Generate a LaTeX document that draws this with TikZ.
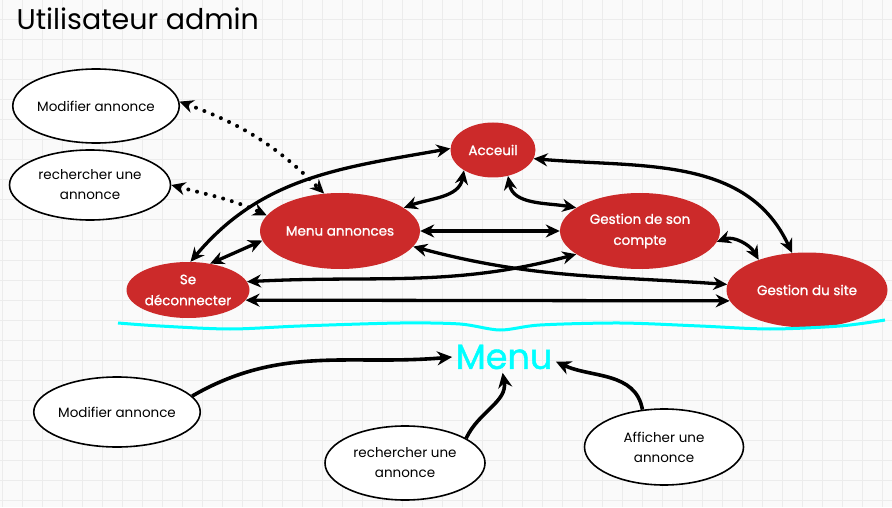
\documentclass[tikz,border=0pt]{standalone}
\usepackage{fontspec}
\setmainfont{Poppins}
\newfontfamily\heavyfont{Poppins}[FakeBold=1.2]
\usepackage{tikz}
\usetikzlibrary{arrows.meta,shapes.geometric,positioning}
\definecolor{redbox}{RGB}{204,42,42}
\definecolor{gridgray}{RGB}{236,236,236}
\definecolor{paper}{RGB}{250,250,250}
\definecolor{aqua}{RGB}{0,255,255}
\tikzset{%
	grid/.style    = {gridgray, line width=1pt},
	pick/.style    = {draw, ellipse, line width=1.6pt, fill=white, minimum width=160pt, minimum height=72pt, inner sep=0pt, align=center, font=\fontsize{13.5}{20}\selectfont},
	screen/.style  = {ellipse, fill=redbox, text=white, minimum width=160pt, minimum height=76pt, inner sep=0pt, align=center, font=\heavyfont\fontsize{13.5}{21}\selectfont},
	link/.style    = {line width=3.3pt,<->,>={Stealth[length=14pt,width=13pt]}},
	dotlink/.style = {link, line cap=round, dash pattern=on 0pt off 9pt, line width=4pt},
	goto/.style    = {line width=3.6pt,-{Stealth[length=15pt,width=14pt]}},
}

\begin{document}
\begin{tikzpicture}[x=1pt,y=1pt]
	\fill[paper] (0,0) rectangle (892,507);
	\useasboundingbox (0,0) rectangle (892,507);
	\foreach \gx in {2,22,...,882} \draw[grid] (\gx,0) -- (\gx,507);
	\foreach \gy in {7,27,...,507} \draw[grid] (0,\gy) -- (892,\gy);
	
	\node[anchor=base west, font=\fontsize{28.5}{34}\selectfont] (title) at (13,477) {Utilisateur admin};
	
	\node[pick, minimum width=159pt, minimum height=74pt] (modtop) at (96,401) {Modifier annonce};
	\node[pick, minimum width=161pt, minimum height=70pt] (rechtop) at (90,322) {rechercher une\\annonce};
	
	\node[screen, minimum width=85pt, minimum height=55pt] (acc) at (493,357) {Acceuil};
	\node[screen] (menuann) at (340,276) {Menu annonces};
	\node[screen] (gestcpt) at (640,276) {Gestion de son\\compte};
	\node[screen, minimum width=161pt, minimum height=75pt] (gestsite) at (807,217) {Gestion du site};
	\node[screen, minimum width=123pt, minimum height=56pt] (sedec) at (188,217) {Se\\déconnecter};
	
	\draw[dotlink] (modtop.3) to[out=-20,in=135] (menuann.113);
	\draw[dotlink] (rechtop.0) to[out=-15,in=155] (menuann.168);
	\draw[link] (sedec.85) to[out=50,in=190] (acc.178);
	\draw[link] (sedec.50) -- (menuann.187);
	\draw[link] (acc.215) to[out=-100,in=20] (menuann.20);
	\draw[link] (acc.-60) to[out=-80,in=170] (gestcpt.160);
	\draw[link] (acc.-12) to[out=-5,in=115] (gestsite.112);
	\draw[link] (menuann.0) -- (gestcpt.180);
	\draw[link] (menuann.-12) to[out=-15,in=176] (gestsite.176);
	\draw[link] (sedec.8) to[out=3,in=195] (gestcpt.200);
	\draw[link] (sedec.-10) -- (gestsite.188);
	\draw[link] (gestcpt.-8) to[out=20,in=120] (gestsite.148);
	
	\draw[aqua, line width=3pt] plot[smooth] coordinates {(118,184) (160,181) (230,178) (300,181) (400,184) (460,183) (500,177) (540,182) (620,184) (700,181) (770,178) (840,181) (885,187)};
	
	\node[text=aqua, font=\heavyfont\fontsize{35}{40}\selectfont] (menu) at (504,150) {Menu};
	
	\node[pick, minimum height=70pt] (modbot) at (117,95) {Modifier annonce};
	\node[pick, minimum height=74pt] (rechbot) at (405,44) {rechercher une\\annonce};
	\node[pick, minimum width=159pt, minimum height=76pt] (affbot) at (664,60) {Afficher une\\annonce};
	
	\draw[goto] (modbot.12) to[out=30,in=185] (menu.west);
	\draw[goto] (rechbot.22) to[out=65,in=-80] (menu.-95);
	\draw[goto] (affbot.120) to[out=100,in=-25] (menu.-5);
\end{tikzpicture}
\end{document}
